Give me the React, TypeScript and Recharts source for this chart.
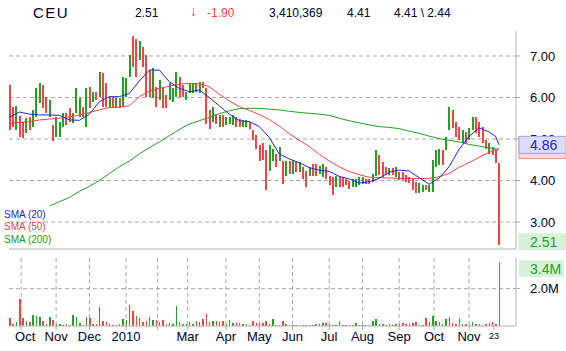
import { Bar, CartesianGrid, ComposedChart, Line, XAxis, YAxis } from 'recharts';

// one bar per two trading days, Sep 2009 - Nov 23 2010
const highs = [
  6.30, 5.78, 5.80, 5.55, 5.40, 5.50, 5.54, 5.70, 6.22, 6.36,
  6.30, 6.02, 5.94, 5.34, 5.54, 5.40, 5.62, 5.62, 5.74, 5.62,
  6.22, 5.98, 5.78, 6.22, 6.26, 6.14, 6.14, 6.62, 6.58, 6.34,
  6.02, 6.02, 5.98, 5.98, 6.50, 6.46, 7.02, 7.48, 7.40, 7.35,
  7.22, 7.02, 6.66, 6.70, 6.26, 6.42, 6.26, 6.06, 6.34, 6.22,
  6.62, 6.50, 6.30, 6.14, 6.34, 6.34, 6.34, 6.38, 6.38, 6.22,
  5.69, 5.77, 5.61, 5.57, 5.57, 5.53, 5.53, 5.57, 5.53, 5.49,
  5.45, 5.45, 5.41, 5.21, 5.09, 4.85, 4.90, 4.73, 4.85, 4.77,
  4.65, 4.81, 4.48, 4.48, 4.48, 4.48, 4.44, 4.44, 4.32, 4.24,
  4.32, 4.40, 4.40, 4.36, 4.40, 4.32, 4.12, 4.08, 4.12, 4.08,
  4.08, 4.04, 4.00, 4.04, 4.04, 4.08, 4.08, 4.04, 4.04, 4.16,
  4.73, 4.61, 4.45, 4.33, 4.29, 4.29, 4.33, 4.21, 4.21, 4.13,
  4.09, 4.05, 3.97, 3.93, 3.89, 3.89, 3.89, 4.49, 4.73, 4.77,
  4.73, 5.06, 5.78, 5.70, 5.42, 5.30, 5.22, 5.18, 5.26, 5.54,
  5.54, 5.42, 5.30, 4.98, 4.90, 4.81, 4.77, 4.41,
];
const lows = [
  5.22, 5.30, 5.22, 5.06, 5.02, 5.14, 5.22, 5.30, 5.54, 5.86,
  5.74, 5.62, 5.54, 4.94, 5.06, 5.06, 5.30, 5.34, 5.42, 5.38,
  5.62, 5.54, 5.54, 5.30, 5.74, 5.90, 5.94, 6.02, 5.78, 5.78,
  5.74, 5.74, 5.74, 5.74, 5.80, 6.02, 6.50, 6.74, 6.50, 6.90,
  6.74, 6.02, 6.02, 5.98, 5.78, 5.94, 5.74, 5.74, 5.94, 5.90,
  6.02, 6.02, 6.02, 5.94, 6.10, 6.10, 6.14, 6.10, 6.22, 5.37,
  5.25, 5.41, 5.37, 5.29, 5.29, 5.33, 5.37, 5.33, 5.29, 5.29,
  5.29, 5.29, 5.25, 4.97, 4.77, 4.48, 4.50, 3.76, 4.24, 4.48,
  4.32, 4.48, 3.92, 4.12, 4.16, 4.16, 4.20, 4.20, 4.04, 3.84,
  4.12, 4.12, 4.12, 4.16, 4.08, 4.04, 3.88, 3.64, 3.84, 3.84,
  3.84, 3.88, 3.80, 3.84, 3.84, 3.88, 3.92, 3.92, 3.92, 3.96,
  4.12, 4.13, 4.09, 4.13, 4.13, 4.13, 4.09, 4.01, 4.01, 3.97,
  3.93, 3.77, 3.69, 3.69, 3.73, 3.77, 3.73, 3.73, 4.33, 4.37,
  4.37, 4.73, 5.22, 5.26, 5.06, 4.98, 4.90, 4.90, 4.98, 5.22,
  5.14, 5.06, 4.90, 4.77, 4.65, 4.61, 4.41, 2.44,
];
const closes = [
  5.45, 5.40, 5.50, 5.20, 5.15, 5.35, 5.30, 5.55, 6.00, 6.10,
  5.90, 5.70, 5.80, 5.05, 5.30, 5.35, 5.45, 5.40, 5.38, 5.55,
  5.75, 5.85, 5.60, 5.90, 5.85, 6.05, 6.00, 6.45, 6.00, 5.90,
  5.95, 5.80, 5.85, 5.78, 6.30, 6.40, 7.00, 6.98, 6.80, 7.10,
  6.85, 6.40, 6.20, 6.45, 6.00, 6.15, 5.90, 5.85, 6.10, 6.15,
  6.40, 6.20, 6.10, 6.12, 6.20, 6.25, 6.20, 6.28, 6.25, 5.50,
  5.40, 5.60, 5.45, 5.46, 5.40, 5.42, 5.48, 5.50, 5.40, 5.36,
  5.40, 5.42, 5.30, 5.05, 4.90, 4.60, 4.55, 4.30, 4.60, 4.65,
  4.40, 4.55, 4.10, 4.35, 4.30, 4.35, 4.30, 4.32, 4.15, 4.00,
  4.25, 4.20, 4.18, 4.22, 4.25, 4.10, 4.00, 3.90, 4.00, 3.95,
  3.92, 3.90, 3.88, 3.95, 3.98, 4.00, 4.02, 3.96, 3.95, 4.10,
  4.50, 4.30, 4.20, 4.18, 4.22, 4.18, 4.20, 4.08, 4.05, 4.03,
  4.00, 3.85, 3.80, 3.85, 3.86, 3.84, 3.86, 4.35, 4.60, 4.62,
  4.50, 4.95, 5.60, 5.40, 5.20, 5.10, 5.15, 5.00, 5.20, 5.45,
  5.30, 5.15, 5.00, 4.85, 4.88, 4.75, 4.41, 2.51,
];
// millions of shares
const volumes = [
  0.45, 0.12, 0.24, 1.46, 0.45, 0.28, 0.24, 0.60, 0.55, 0.46,
  0.25, 0.12, 0.46, 0.30, 0.12, 0.09, 0.08, 0.09, 0.05, 0.57,
  0.50, 0.18, 0.07, 0.48, 0.42, 0.13, 0.09, 1.00, 0.25, 0.21,
  0.12, 0.07, 0.07, 0.12, 0.36, 0.30, 1.14, 0.78, 0.55, 0.43,
  0.22, 0.25, 0.48, 0.30, 0.30, 0.20, 0.30, 0.09, 0.16, 0.12,
  1.07, 0.21, 0.09, 0.09, 0.21, 0.12, 0.25, 0.21, 0.36, 0.66,
  0.21, 0.25, 0.25, 0.21, 0.25, 0.12, 0.30, 0.18, 0.18, 0.18,
  0.12, 0.12, 0.07, 0.28, 0.18, 0.18, 0.16, 0.25, 0.12, 0.36,
  0.07, 0.07, 0.25, 0.12, 0.08, 0.07, 0.05, 0.05, 0.08, 0.05,
  0.05, 0.05, 0.09, 0.13, 0.16, 0.16, 0.10, 0.04, 0.04, 0.27,
  0.07, 0.05, 0.05, 0.07, 0.16, 0.07, 0.04, 0.05, 0.06, 0.27,
  0.36, 0.13, 0.10, 0.08, 0.10, 0.07, 0.12, 0.09, 0.16, 0.10,
  0.12, 0.16, 0.20, 0.07, 0.04, 0.45, 0.21, 0.54, 0.25, 0.21,
  0.13, 0.36, 0.48, 0.18, 0.12, 0.45, 0.09, 0.12, 0.05, 0.21,
  0.12, 0.12, 0.07, 0.12, 0.16, 0.21, 0.09, 3.41,
];

// moving averages, read at every 6th trading day
const smaDays = [
  0, 6, 12, 18, 24, 30, 36, 42, 48, 54, 60, 66, 72, 78, 84, 90, 96,
  102, 108, 114, 120, 126, 132, 138, 144, 150, 156, 162, 168, 174, 180,
  186, 192, 198, 204, 210, 216, 222, 228, 234, 240, 246, 252, 258, 264,
  270, 276, 282, 288, 292, 294,
];
const sma20 = [
  5.53, 5.65, 5.60, 5.58, 5.58, 5.57, 5.46, 5.45, 5.60, 5.90, 6.02, 6.02, 6.10,
  6.40, 6.66, 6.66, 6.38, 6.22, 6.14, 6.18, 6.00, 5.80, 5.60, 5.44, 5.42, 5.30,
  5.04, 4.64, 4.52, 4.43, 4.31, 4.25, 4.22, 4.10, 4.04, 3.94, 3.97, 4.05, 4.20,
  4.25, 4.23, 4.07, 3.91, 4.06, 4.33, 4.75, 5.06, 5.27, 5.17, 5.06, 4.86,
];
const sma50 = [
  5.38, 5.40, 5.42, 5.46, 5.48, 5.50, 5.53, 5.58, 5.64, 5.70, 5.76, 5.77, 5.80,
  6.02, 6.16, 6.22, 6.27, 6.32, 6.34, 6.33, 6.26, 6.08, 5.92, 5.78, 5.69, 5.59,
  5.47, 5.31, 5.13, 4.97, 4.82, 4.63, 4.47, 4.33, 4.22, 4.14, 4.08, 4.07, 4.06,
  4.05, 4.05, 4.05, 4.05, 4.09, 4.17, 4.32, 4.43, 4.56, 4.68, 4.74, 4.78,
];
const sma200 = [
  null, null, null, null, 3.39, 3.49, 3.59, 3.74, 3.86, 4.00, 4.17, 4.33, 4.47,
  4.64, 4.79, 4.93, 5.08, 5.23, 5.36, 5.44, 5.52, 5.61, 5.68, 5.73, 5.74, 5.74,
  5.72, 5.70, 5.67, 5.64, 5.62, 5.60, 5.57, 5.50, 5.44, 5.39, 5.34, 5.30, 5.28,
  5.25, 5.19, 5.14, 5.07, 5.01, 4.97, 4.93, 4.87, 4.83, 4.79, 4.76, 4.73,
];

const monthDays = [7, 28, 48, 70, 89, 107, 130, 150, 170, 192, 212, 234, 255, 276];
const monthLabels = ['Oct', 'Nov', 'Dec', '2010', '', 'Mar', 'Apr', 'May', 'Jun', 'Jul', 'Aug', 'Sep', 'Oct', 'Nov'];
const lastDay = 291;
const lastDayLabel = '23';

const priceTicks = [3, 4, 5, 6, 7];
const volumeTicks = [2];

const UP = '#22a022';
const DOWN = '#f24646';
const BLUE = '#2424e0';
const TEXT = '#000033';
const GRID = '#a8a8a8';
const BORDER = '#b4b4b4';
const FONT = '"Liberation Sans", Arial, sans-serif';

const rows = highs.map((h, i) => ({
  day: i * 2,
  range: [lows[i], h],
  close: closes[i],
  volume: volumes[i],
  up: i > 0 && closes[i] > closes[i - 1],
}));

const smaRows = smaDays.map((day, i) => ({ day, s20: sma20[i], s50: sma50[i], s200: sma200[i] }));

const lastClose = closes[closes.length - 1];
const last20 = sma20[sma20.length - 1];
const last50 = sma50[sma50.length - 1];
const lastVolume = volumes[volumes.length - 1];

const xDomain = [-0.3, 304.2];

const StickShape = (props: any) => {
  const { x, y, width, height, payload, stick = 2 } = props;
  if (x == null || y == null) return null;
  return (
    <rect
      x={x + width / 2 - stick / 2}
      y={y}
      width={stick}
      height={Math.max(height, 1)}
      fill={payload.up ? UP : DOWN}
      shapeRendering="crispEdges"
    />
  );
};

const badgeStyles: Record<string, { fill: string; stroke: string; color: string }> = {
  s20: { fill: '#dcdcff', stroke: '#a0a0f0', color: BLUE },
  s50: { fill: '#ffd8d8', stroke: '#f09090', color: DOWN },
  last: { fill: '#d8f0d8', stroke: '#d8f0d8', color: UP },
};

const PriceTick = ({ x, y, payload }: any) => {
  const v = payload.value;
  const kind = v === last20 ? 's20' : v === last50 ? 's50' : v === lastClose ? 'last' : null;
  if (kind) {
    const s = badgeStyles[kind];
    // the SMA(50) badge sits under the SMA(20) one, only its lower edge shows
    return (
      <g>
        <rect x={x - 11} y={y - 8.5} width={47} height={kind === 's50' ? 19 : 17} fill={s.fill} stroke={s.stroke} />
        {kind !== 's50' && (
          <text x={x} y={y} dy={5} fill={s.color} fontSize={14} fontFamily={FONT}>
            {v.toFixed(2)}
          </text>
        )}
      </g>
    );
  }
  return (
    <g>
      <line x1={x - 14} x2={x - 10} y1={y} y2={y} stroke={GRID} />
      <text x={x} y={y} dy={4.7} fill={TEXT} fontSize={13} fontFamily={FONT}>
        {v.toFixed(2)}
      </text>
    </g>
  );
};

const VolumeTick = ({ x, y, payload }: any) => {
  const v = payload.value;
  if (v === lastVolume) {
    return (
      <g>
        <rect x={x - 11} y={y - 2} width={45} height={16.5} fill="#d8f0d8" />
        <text x={x} y={y} dy={11.5} fill={UP} fontSize={14} fontFamily={FONT}>
          {v.toFixed(1)}M
        </text>
      </g>
    );
  }
  return (
    <g>
      <line x1={x - 14} x2={x - 10} y1={y} y2={y} stroke={GRID} />
      <text x={x} y={y} dy={4.7} fill={TEXT} fontSize={13} fontFamily={FONT}>
        {v.toFixed(1)}M
      </text>
    </g>
  );
};

const MonthTick = ({ x, y, payload }: any) => {
  if (payload.value === lastDay) {
    return (
      <text x={x} y={y} dy={6.7} textAnchor="middle" fill={TEXT} fontSize={9} fontFamily={FONT}>
        {lastDayLabel}
      </text>
    );
  }
  const i = monthDays.indexOf(payload.value);
  return (
    <text x={i === 0 ? x + 4 : x} y={y} dy={9.3} textAnchor="middle" fill={TEXT} fontSize={13} fontFamily={FONT}>
      {monthLabels[i]}
    </text>
  );
};

const headerItems = [
  { text: '2.51', left: 135, color: TEXT, size: 12 },
  { text: '\u2193', left: 190, color: DOWN, size: 14 },
  { text: '-1.90', left: 207, color: DOWN, size: 12 },
  { text: '3,410,369', left: 269, color: TEXT, size: 12 },
  { text: '4.41', left: 347, color: TEXT, size: 12 },
  { text: '4.41 \\ 2.44', left: 394, color: TEXT, size: 12 },
];

const legendItems = [
  { text: 'SMA (20)', top: 208.5, color: BLUE },
  { text: 'SMA (50)', top: 221.3, color: DOWN },
  { text: 'SMA (200)', top: 234, color: UP },
];

const App = () => {
  return (
    <div style={{ position: 'absolute', left: 0, top: 0, width: 566, height: 351, background: '#fff', fontFamily: FONT }}>
      <div style={{ position: 'absolute', left: 0, top: 0 }}>
        <ComposedChart width={566} height={250} data={rows} margin={{ top: 31, right: 0, left: 9, bottom: 0 }}>
          <CartesianGrid
            stroke={GRID}
            strokeDasharray="4 3"
            verticalValues={monthDays}
            horizontalValues={priceTicks}
          />
          <XAxis
            dataKey="day"
            type="number"
            domain={xDomain}
            allowDataOverflow
            ticks={monthDays}
            height={1}
            tick={false}
            tickLine={false}
            axisLine={{ stroke: BORDER }}
          />
          <YAxis
            orientation="right"
            type="number"
            domain={[2.35, 7.602]}
            allowDataOverflow
            ticks={[...priceTicks, last50, last20, lastClose]}
            interval={0}
            width={50}
            tickSize={4}
            tickMargin={10}
            tickLine={false}
            axisLine={{ stroke: BORDER }}
            tick={<PriceTick />}
          />
          <Bar dataKey="range" barSize={2} shape={<StickShape stick={2} />} isAnimationActive={false} />
          <Line data={smaRows} dataKey="s200" stroke={UP} strokeWidth={1} dot={false} activeDot={false} isAnimationActive={false} />
          <Line data={smaRows} dataKey="s50" stroke={DOWN} strokeWidth={1} dot={false} activeDot={false} isAnimationActive={false} />
          <Line data={smaRows} dataKey="s20" stroke={BLUE} strokeWidth={1} dot={false} activeDot={false} isAnimationActive={false} />
        </ComposedChart>
      </div>
      <div style={{ position: 'absolute', left: 0, top: 250 }}>
        <ComposedChart width={566} height={101} data={rows} margin={{ top: 8, right: 0, left: 9, bottom: 0 }}>
          <CartesianGrid
            stroke={GRID}
            strokeDasharray="4 3"
            verticalValues={monthDays}
            horizontalValues={volumeTicks}
          />
          <XAxis
            dataKey="day"
            type="number"
            domain={xDomain}
            allowDataOverflow
            ticks={[...monthDays, lastDay]}
            interval={0}
            height={25}
            tickSize={4}
            tickMargin={2}
            tickLine={{ stroke: GRID }}
            axisLine={{ stroke: BORDER }}
            tick={<MonthTick />}
          />
          <YAxis
            orientation="right"
            type="number"
            domain={[0, 3.64]}
            allowDataOverflow
            ticks={[...volumeTicks, lastVolume]}
            interval={0}
            width={50}
            tickSize={4}
            tickMargin={10}
            tickLine={false}
            axisLine={{ stroke: BORDER }}
            tick={<VolumeTick />}
          />
          <Bar dataKey="volume" barSize={2} shape={<StickShape stick={1.5} />} isAnimationActive={false} />
        </ComposedChart>
      </div>
      <div style={{ position: 'absolute', left: 33, top: 4, fontSize: 15, lineHeight: '17px', letterSpacing: 1.5, color: TEXT }}>
        CEU
      </div>
      {headerItems.map((h) => (
        <div
          key={h.left}
          style={{
            position: 'absolute',
            left: h.left,
            top: h.size === 12 ? 6 : 4,
            fontSize: h.size,
            lineHeight: '14px',
            fontWeight: h.size === 12 ? 'normal' : 'bold',
            color: h.color,
            whiteSpace: 'nowrap',
          }}
        >
          {h.text}
        </div>
      ))}
      {legendItems.map((l) => (
        <div
          key={l.text}
          style={{ position: 'absolute', left: 4, top: l.top, fontSize: 10, lineHeight: '12px', color: l.color, whiteSpace: 'nowrap' }}
        >
          {l.text}
        </div>
      ))}
    </div>
  );
};

export default App;
